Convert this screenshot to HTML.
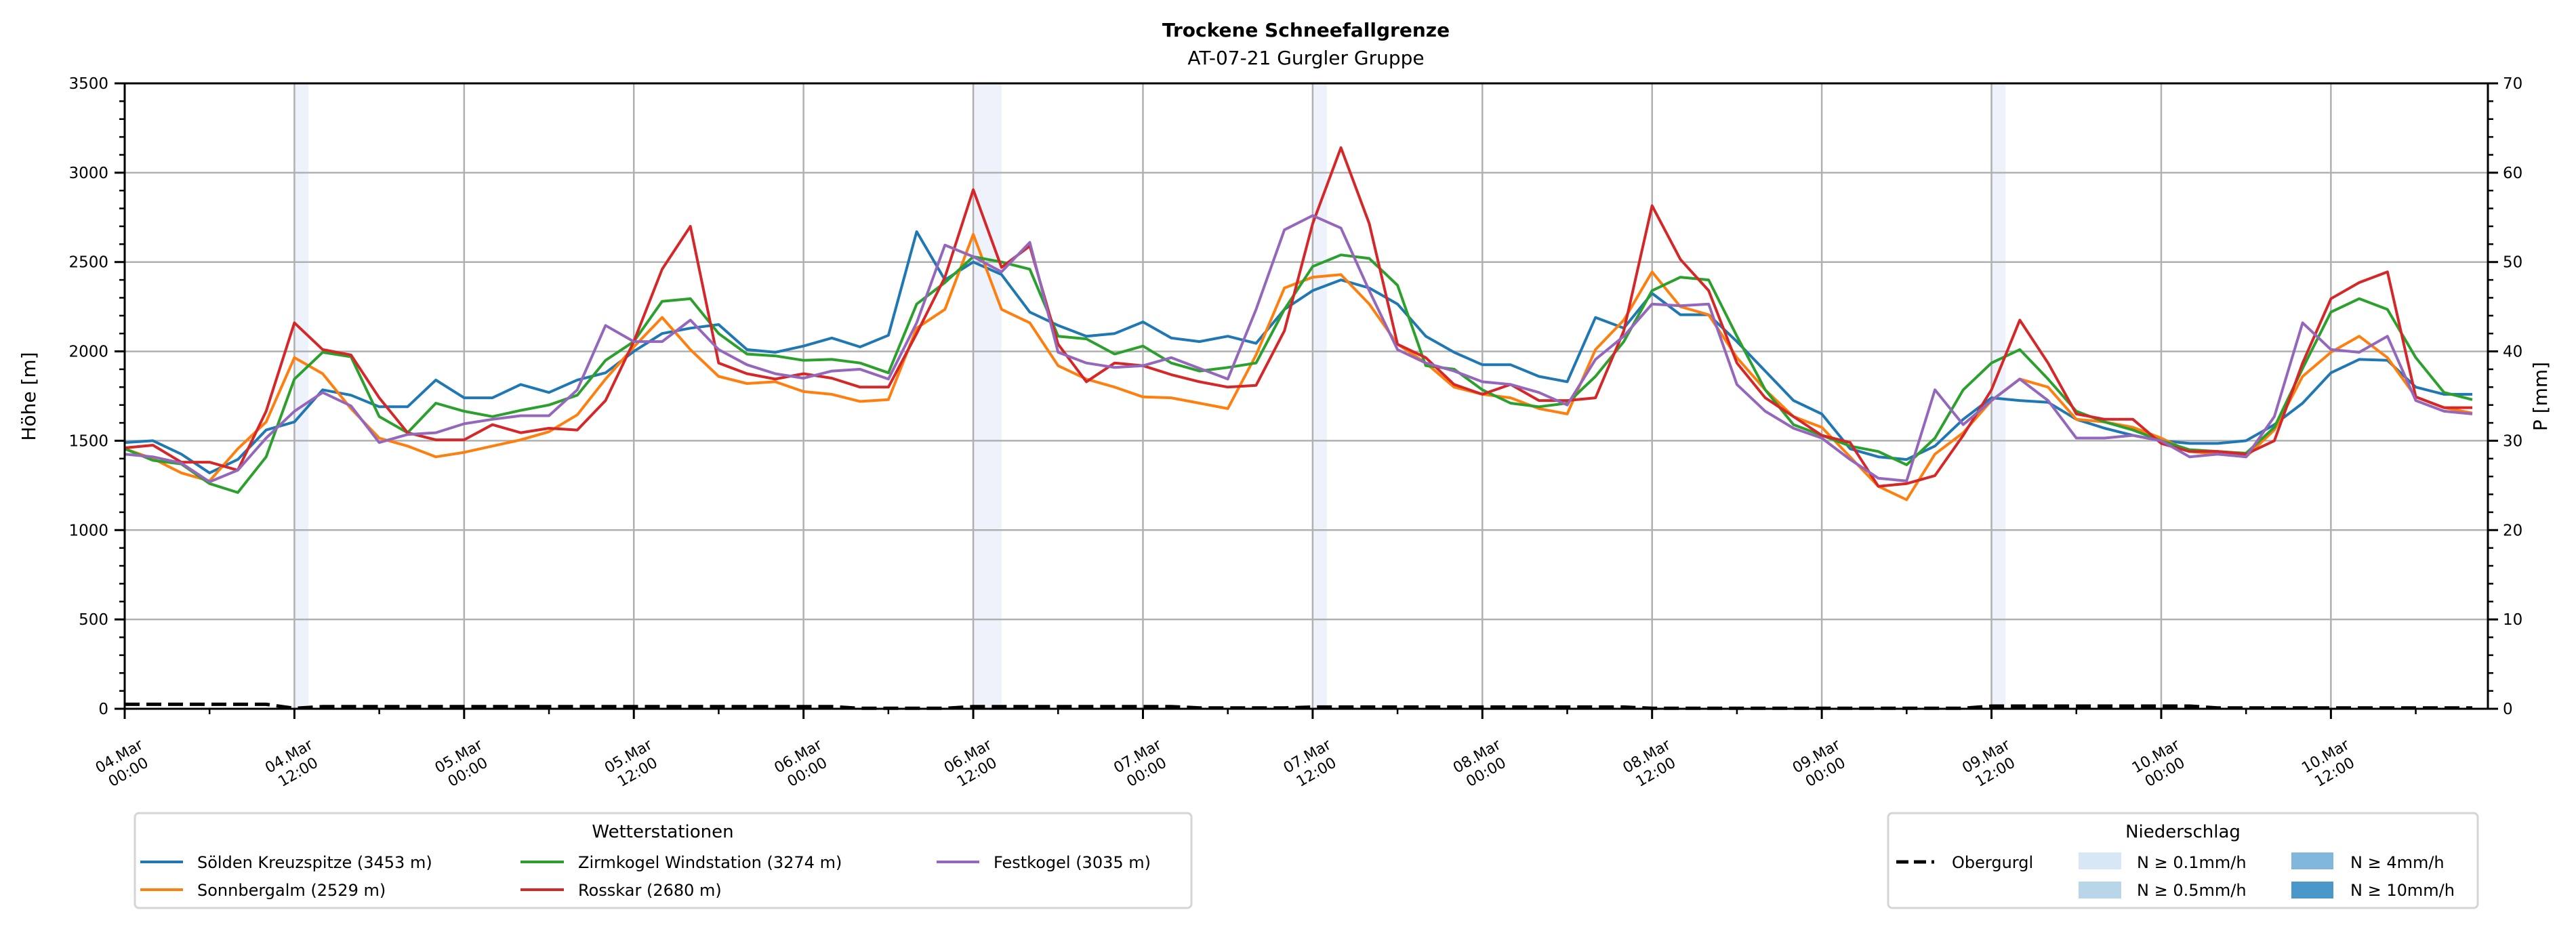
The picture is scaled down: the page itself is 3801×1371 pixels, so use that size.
<!DOCTYPE html>
<html><head><meta charset="utf-8"><style>
html,body{margin:0;padding:0;background:#fff;}
svg{display:block;font-family:"DejaVu Sans","Liberation Sans",sans-serif;}
</style></head><body>
<svg id="chart" xmlns="http://www.w3.org/2000/svg" width="3801" height="1371" viewBox="0 0 3801 1371">
<rect x="0" y="0" width="3801" height="1371" fill="#fff"/>
<text x="1927" y="54" text-anchor="middle" font-size="28" font-weight="bold">Trockene Schneefallgrenze</text>
<text x="1927" y="95" text-anchor="middle" font-size="28">AT-07-21 Gurgler Gruppe</text>
<text transform="translate(52,585) rotate(-90)" text-anchor="middle" font-size="28">Höhe [m]</text>
<text transform="translate(3758,585) rotate(-90)" text-anchor="middle" font-size="28">P [mm]</text>
<g id="bands"></g>
<g id="grid"></g>
<g id="series"></g>
<g id="axes"></g>

<g>
<rect x="199" y="1200" width="1559" height="140" rx="6" fill="#fff" stroke="#d5d5d5" stroke-width="3"/>
<text x="978" y="1236" text-anchor="middle" font-size="26">Wetterstationen</text>
<g><line x1="207" y1="1272" x2="270" y2="1272" stroke="#1f77b4" stroke-width="4"/><text x="291" y="1281" font-size="24">Sölden Kreuzspitze (3453 m)</text></g>
<g><line x1="207" y1="1313" x2="270" y2="1313" stroke="#ff7f0e" stroke-width="4"/><text x="291" y="1322" font-size="24">Sonnbergalm (2529 m)</text></g>
<g><line x1="768" y1="1272" x2="832" y2="1272" stroke="#2ca02c" stroke-width="4"/><text x="853" y="1281" font-size="24">Zirmkogel Windstation (3274 m)</text></g>
<g><line x1="768" y1="1313" x2="832" y2="1313" stroke="#d62728" stroke-width="4"/><text x="853" y="1322" font-size="24">Rosskar (2680 m)</text></g>
<g><line x1="1382" y1="1272" x2="1445" y2="1272" stroke="#9467bd" stroke-width="4"/><text x="1466" y="1281" font-size="24">Festkogel (3035 m)</text></g>
</g>

<g>
<rect x="2786" y="1200" width="870" height="140" rx="6" fill="#fff" stroke="#d5d5d5" stroke-width="3"/>
<text x="3221" y="1236" text-anchor="middle" font-size="26">Niederschlag</text>
<g><line x1="2798" y1="1272" x2="2854" y2="1272" stroke="#000" stroke-width="5" stroke-dasharray="18,8"/><text x="2880" y="1281" font-size="24">Obergurgl</text></g>
<g><rect x="3067" y="1258" width="63" height="25" fill="#d8e7f5"/><text x="3153" y="1281" font-size="24">N ≥ 0.1mm/h</text></g>
<g><rect x="3067" y="1301" width="63" height="25" fill="#b8d5ea"/><text x="3153" y="1322" font-size="24">N ≥ 0.5mm/h</text></g>
<g><rect x="3381" y="1258" width="62" height="25" fill="#80b7da"/><text x="3468" y="1281" font-size="24">N ≥ 4mm/h</text></g>
<g><rect x="3381" y="1301" width="62" height="25" fill="#4a98c9"/><text x="3468" y="1322" font-size="24">N ≥ 10mm/h</text></g>
</g>
</svg>
<script>
// ---- data (even hours, 0..166) ----
const hours = [];
for (let h = 0; h <= 166; h += 2) hours.push(h);
const soelden = [1490,1500,1425,1320,1395,1560,1605,1785,1755,1690,1690,1840,1740,1740,1815,1770,1840,1880,2000,2100,2130,2150,
2010,1995,2030,2075,2025,2090,2670,2400,2500,2430,2220,2145,2085,2100,2165,2075,2055,2085,2045,2235,
2340,2400,2355,2265,2085,1995,1925,1925,1860,1830,2190,2130,2325,2205,2205,2055,1890,1725,1650,1455,1410,
1395,1470,1620,1740,1725,1715,1620,1570,1530,1500,1485,1485,1500,1590,1710,1880,1955,1950,1800,1760,1760];
const sonnbergalm = [1455,1400,1320,1275,1455,1605,1965,1875,1680,1515,1470,1410,1435,1470,1505,1550,1645,1845,2025,2190,2010,1860,
1820,1830,1775,1760,1720,1730,2130,2235,2655,2235,2160,1920,1845,1800,1745,1740,1710,1680,1980,2355,
2415,2430,2265,2040,1935,1800,1760,1740,1680,1650,2010,2175,2445,2250,2205,1965,1785,1635,1575,1410,1245,
1170,1425,1545,1725,1845,1800,1620,1605,1575,1515,1440,1425,1410,1560,1860,1995,2085,1965,1745,1685,1655];
const zirmkogel = [1455,1390,1370,1260,1210,1410,1845,1995,1970,1635,1545,1710,1665,1635,1670,1700,1755,1950,2055,2280,2295,2100,
1985,1975,1950,1955,1935,1880,2265,2385,2530,2500,2460,2085,2070,1985,2030,1935,1890,1910,1935,2235,
2475,2540,2520,2370,1920,1900,1785,1710,1690,1710,1860,2055,2340,2415,2400,2085,1785,1590,1530,1470,1440,
1365,1515,1785,1935,2010,1845,1665,1605,1560,1500,1450,1440,1430,1575,1905,2220,2295,2235,1965,1770,1730];
const rosskar = [1460,1475,1380,1380,1335,1665,2160,2010,1980,1740,1545,1505,1505,1590,1545,1570,1560,1725,2055,2460,2700,1935,
1875,1845,1875,1850,1800,1800,2100,2415,2905,2470,2590,2040,1830,1935,1920,1870,1830,1800,1810,2115,
2715,3140,2715,2040,1965,1815,1760,1815,1725,1725,1740,2115,2815,2515,2340,1935,1740,1635,1530,1490,1245,
1260,1305,1530,1785,2175,1935,1650,1620,1620,1485,1440,1440,1425,1500,1935,2295,2385,2445,1745,1685,1685];
const festkogel = [1425,1410,1375,1270,1335,1515,1665,1770,1695,1490,1535,1545,1595,1620,1640,1640,1785,2145,2055,2055,2175,2010,
1925,1875,1850,1890,1900,1845,2160,2595,2530,2445,2610,1995,1935,1910,1920,1965,1905,1845,2235,2680,
2760,2690,2340,2010,1935,1890,1830,1815,1770,1700,1955,2085,2265,2255,2265,1815,1665,1570,1515,1395,1290,
1275,1785,1590,1725,1845,1725,1515,1515,1530,1500,1410,1425,1410,1635,2160,2010,1995,2085,1725,1665,1650];
const obergurgl = [.5,.5,.5,.5,.5,.5,.05,
.25,.25,.25,.25,.25,.25,.25,.25,.25,.25,.25,.25,.25,.25,.25,.25,.25,.25,.25,
.05,.05,.05,.05,
.25,.25,.25,.25,.25,.25,.25,.25,
.1,.1,.1,.1,
.2,.2,.2,.2,.2,.2,.2,.2,.2,.2,.2,.2,
.05,.05,.05,.05,.05,.05,.05,.05,.05,.05,.05,.05,
.3,.3,.3,.3,.3,.3,.3,.3,
.1,.1,.1,.1,.1,.1,.1,.1,.1,.1];
const bandStart = [12, 60, 84, 132];
const bandEnd = [13, 62, 85, 133];
const xTickDates = ["04.Mar","04.Mar","05.Mar","05.Mar","06.Mar","06.Mar","07.Mar","07.Mar","08.Mar","08.Mar","09.Mar","09.Mar","10.Mar","10.Mar"];
const xTickTimes = ["00:00","12:00","00:00","12:00","00:00","12:00","00:00","12:00","00:00","12:00","00:00","12:00","00:00","12:00"];
const yTicks = [0,500,1000,1500,2000,2500,3000,3500];
const y2Ticks = [0,10,20,30,40,50,60,70];

// ---- scales ----
const L = 184, R = 3671, T = 123, B = 1046;
const XMAX = 167.1, YMAX = 3500, PMAX = 70;
const xs = h => L + h / XMAX * (R - L);
const ys = v => B - v / YMAX * (B - T);
const ps = v => B - v / PMAX * (B - T);
const NS = "http://www.w3.org/2000/svg";
function mk(tag, attrs, parent) {
  const e = document.createElementNS(NS, tag);
  for (const k in attrs) e.setAttribute(k, attrs[k]);
  parent.appendChild(e);
  return e;
}
const gB = document.getElementById('bands'), gG = document.getElementById('grid'),
      gS = document.getElementById('series'), gA = document.getElementById('axes');

bandStart.forEach((s, i) => {
  const r = mk('rect', {x: xs(s), y: T, width: xs(bandEnd[i]) - xs(s), height: B - T, fill: '#eef3fb'}, gB);
  
  
});

xTickDates.forEach((d, i) => {
  const x = xs(i * 12);
  const l = mk('line', {x1: x, y1: T, x2: x, y2: B, stroke: '#b0b0b0', 'stroke-width': 2.5}, gG);
  
  
});
yTicks.forEach(v => {
  const l = mk('line', {x1: L, y1: ys(v), x2: R, y2: ys(v), stroke: '#b0b0b0', 'stroke-width': 2.5}, gG);
  
  
});

const series = [[soelden,'#1f77b4','line-soelden'],[sonnbergalm,'#ff7f0e','line-sonnbergalm'],[zirmkogel,'#2ca02c','line-zirmkogel'],[rosskar,'#d62728','line-rosskar'],[festkogel,'#9467bd','line-festkogel']];
series.forEach(s => {
  const pts = s[0].map((v, i) => xs(hours[i]).toFixed(1) + ',' + ys(v).toFixed(1)).join(' ');
  const p = mk('polyline', {points: pts, fill: 'none', stroke: s[1], 'stroke-width': 4, 'stroke-linejoin': 'round'}, gS);
  
  
});
{
  const pts = obergurgl.map((v, i) => xs(hours[i]).toFixed(1) + ',' + ps(v).toFixed(1)).join(' ');
  const p = mk('polyline', {points: pts, fill: 'none', stroke: '#000', 'stroke-width': 5, 'stroke-dasharray': '22,10'}, gS);
  
  
}

const fr = mk('rect', {x: L, y: T, width: R - L, height: B - T, fill: 'none', stroke: '#000', 'stroke-width': 3}, gA);



for (let v = 0; v <= YMAX; v += 100) {
  const major = v % 500 === 0;
  const t = mk('line', {x1: L - (major ? 15 : 8), y1: ys(v), x2: L, y2: ys(v), stroke: '#000', 'stroke-width': major ? 3 : 2.5}, gA);
  
  
}
yTicks.forEach(v => {
  const t = mk('text', {x: L - 24, y: ys(v) + 8, 'text-anchor': 'end', 'font-size': 23}, gA);
  t.textContent = v;
  
  
});
for (let v = 0; v <= PMAX; v += 2) {
  const major = v % 10 === 0;
  const t = mk('line', {x1: R, y1: ps(v), x2: R + (major ? 15 : 8), y2: ps(v), stroke: '#000', 'stroke-width': major ? 3 : 2.5}, gA);
  
  
}
y2Ticks.forEach(v => {
  const t = mk('text', {x: R + 22, y: ps(v) + 8, 'text-anchor': 'start', 'font-size': 23}, gA);
  t.textContent = v;
  
  
});
for (let h = 0; h <= 162; h += 6) {
  const major = h % 12 === 0;
  const t = mk('line', {x1: xs(h), y1: B, x2: xs(h), y2: B + (major ? 15 : 8), stroke: '#000', 'stroke-width': major ? 3 : 2.5}, gA);
  
  
}
xTickDates.forEach((d, i) => {
  const x = xs(i * 12);
  const g = mk('g', {transform: 'translate(' + (x - 3) + ',1125) rotate(-30)'}, gA);
  
  
  const t1 = mk('text', {x: 0, y: -3, 'text-anchor': 'middle', 'font-size': 22}, g);
  t1.textContent = d;
  const t2 = mk('text', {x: 0, y: 24, 'text-anchor': 'middle', 'font-size': 22}, g);
  t2.textContent = xTickTimes[i];
});
</script>
</body></html>
